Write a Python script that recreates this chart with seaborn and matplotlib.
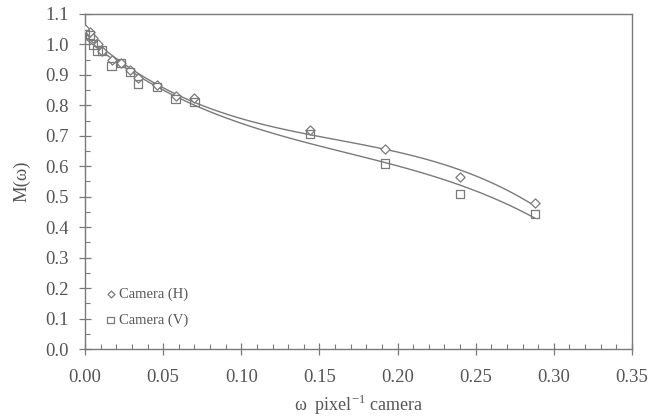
import matplotlib
matplotlib.use("Agg")
import matplotlib.pyplot as plt
import seaborn as sns
import pandas as pd
import numpy as np
from matplotlib.ticker import MultipleLocator

# Data
omega = [0.000, 0.003, 0.005, 0.008, 0.011, 0.017, 0.023, 0.029, 0.034,
         0.046, 0.058, 0.070, 0.144, 0.192, 0.240, 0.288]
m_h = [1.05, 1.04, 1.02, 1.00, 0.98, 0.95, 0.94, 0.915, 0.89,
       0.868, 0.832, 0.825, 0.720, 0.658, 0.566, 0.479]
m_v = [1.035, 1.03, 1.00, 0.98, 0.98, 0.93, 0.94, 0.91, 0.87,
       0.860, 0.820, 0.812, 0.707, 0.609, 0.509, 0.443]
labels = ["Camera (H)", "Camera (V)"]
x_ticks = [0.00, 0.05, 0.10, 0.15, 0.20, 0.25, 0.30, 0.35]
y_ticks = [0.0, 0.1, 0.2, 0.3, 0.4, 0.5, 0.6, 0.7, 0.8, 0.9, 1.0, 1.1]

sns.set_style("white")
plt.rcParams['font.family'] = ['Liberation Serif', 'DejaVu Serif']
plt.rcParams['mathtext.fontset'] = 'custom'
plt.rcParams['mathtext.rm'] = 'Liberation Serif'

grey = "#7a7a7a"
tgrey = "#555555"

df_h = pd.DataFrame({"omega": omega, "M": m_h})
df_v = pd.DataFrame({"omega": omega, "M": m_v})

fig = plt.figure(figsize=(6.62, 4.19), dpi=100)
ax = fig.add_axes([85/662, 1-349/419, (632-85)/662, (349-14)/419])

sns.regplot(data=df_h, x="omega", y="M", order=3, ci=None, scatter=False,
            ax=ax, line_kws=dict(color=grey, lw=1.0))
sns.regplot(data=df_v, x="omega", y="M", order=3, ci=None, scatter=False,
            ax=ax, line_kws=dict(color=grey, lw=1.0))
ax.scatter(df_h["omega"], df_h["M"], marker="D", s=22, facecolors="white",
           edgecolors=grey, linewidths=0.9, zorder=3, label=labels[0])
ax.scatter(df_v["omega"], df_v["M"], marker="s", s=36, facecolors="none",
           edgecolors=grey, linewidths=0.9, zorder=3, label=labels[1])

ax.set_xlim(0, 0.35)
ax.set_ylim(0, 1.1)
ax.set_xticks(x_ticks)
ax.set_yticks(y_ticks)
ax.set_xticklabels([f"{v:.2f}" for v in x_ticks])
ax.set_yticklabels([f"{v:.1f}" for v in y_ticks])
ax.xaxis.set_minor_locator(MultipleLocator(0.01))
ax.yaxis.set_minor_locator(MultipleLocator(0.05))
ax.tick_params(axis="both", which="major", direction="inout", length=9,
               width=0.9, color=grey, labelcolor=tgrey, labelsize=13.5,
               bottom=True, left=True, top=False, right=False)
ax.tick_params(axis="both", which="minor", direction="in", length=3.5,
               width=0.8, color=grey, bottom=True, left=True, top=False, right=False)
ax.tick_params(axis="x", which="major", pad=10)
ax.tick_params(axis="y", which="major", pad=7)
for s in ax.spines.values():
    s.set_color(grey)
    s.set_linewidth(1.0)

ax.set_xlabel(r"ω  pixel$^{\mathregular{-1}}$ camera", color=tgrey, fontsize=13, labelpad=5)
ax.set_ylabel("M(ω)", color=tgrey, fontsize=13.5, labelpad=11)

leg = ax.legend(loc="lower left", bbox_to_anchor=(0.012, 0.035), frameon=False,
                fontsize=10.5, handletextpad=0.0, markerscale=0.75,
                labelspacing=0.85, handlelength=1.2, borderaxespad=0.3)
for t in leg.get_texts():
    t.set_color(tgrey)

fig.savefig("out.png", dpi=100)
